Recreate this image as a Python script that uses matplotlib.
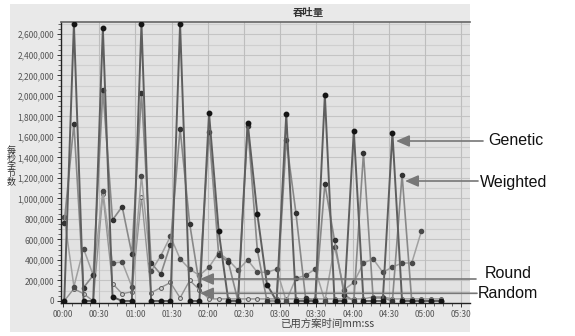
import numpy as np
import matplotlib
matplotlib.use("Agg")
import matplotlib.pyplot as plt
from matplotlib.ticker import FuncFormatter, MultipleLocator
from matplotlib.patches import Rectangle

plt.rcParams['font.family'] = ['Noto Sans CJK SC', 'DejaVu Sans']

# sample times (s) and bytes-per-second, in millions
step = 8
n_pts = 40
times = 1 + step * np.arange(n_pts)

genetic = [0, 2.70, 0, 0, 2.66, 0.04, 0, 0, 2.70, 0,
           0, 0, 2.70, 0, 0, 1.83, 0.68, 0, 0, 1.74,
           0.85, 0.16, 0, 1.82, 0, 0, 0, 2.01, 0, 0,
           1.66, 0, 0, 0, 1.64, 0, 0, 0, 0, 0]
weighted = [0.76, 1.73, 0.13, 0.25, 2.06, 0.79, 0.92, 0.46, 2.03, 0.37,
            0.26, 0.55, 1.68, 0.75, 0.16, 1.65, 0.45, 0.38, 0, 1.71,
            0.50, 0, 0, 1.57, 0.86, 0.03, 0, 1.14, 0.59, 0.06,
            0, 1.44, 0.03, 0.03, 0, 1.23, 0, 0, 0, 0]
round_robin = [0.82, 0.14, 0.51, 0.25, 1.07, 0.37, 0.38, 0.14, 1.22, 0.29,
               0.44, 0.63, 0.41, 0.31, 0.25, 0.33, 0.47, 0.40, 0.30, 0.40,
               0.28, 0.28, 0.31, 0, 0.22, 0.25, 0.31, 0, 0.53, 0.11,
               0.18, 0.37, 0.41, 0.28, 0.33, 0.37, 0.37, 0.68, np.nan, np.nan]
random_ = [0, 0.12, 0.07, 0, 1.04, 0.17, 0.07, 0.09, 1.01, 0.08,
           0.13, 0.18, 0.03, 0.20, 0.11, 0.02, 0.02, 0.02, 0.02, 0.02,
           0.02, 0.02, 0.02, 0.02, 0.02, 0.02, 0.02, 0.02, 0.02, 0.02,
           0.02, 0.02, 0.04, 0.04, 0.02, 0.02, 0.02, 0.02, 0.02, 0.02]

labels = ["Genetic", "Weighted", "Round", "Random"]

fig = plt.figure(figsize=(5.75, 3.36), dpi=100, facecolor="white")

# grey chart panel behind everything
fig.patches.append(Rectangle((10 / 575, 1 - 332 / 336), 460 / 575, 328 / 336,
                             transform=fig.transFigure, facecolor="#e9e9e9",
                             edgecolor="none", zorder=-10))

ax = fig.add_axes([61 / 575, 1 - 302.7 / 336, 409 / 575, 280.7 / 336])
ax.set_facecolor("#e2e2e2")

ax.plot(times, np.array(random_) * 1e6, color="#939393", lw=1.0,
        marker="o", ms=2.8, mfc="#d0d0d0", mec="#5a5a5a", mew=0.7, zorder=3)
ax.plot(times, np.array(round_robin) * 1e6, color="#a0a0a0", lw=1.1,
        marker="o", ms=3, mfc="#4a4a4a", mec="#4a4a4a", zorder=4)
ax.plot(times, np.array(weighted) * 1e6, color="#888888", lw=1.2,
        marker="o", ms=3, mfc="#333333", mec="#333333", zorder=5)
ax.plot(times, np.array(genetic) * 1e6, color="#5e5e5e", lw=1.4,
        marker="o", ms=3.2, mfc="#151515", mec="#151515", zorder=6)

ax.set_xlim(-1.7, 337.3)
ax.set_ylim(-17000, 2720000)

ax.yaxis.set_major_locator(MultipleLocator(200000))
ax.yaxis.set_minor_locator(MultipleLocator(50000))
ax.xaxis.set_major_locator(MultipleLocator(30))
ax.xaxis.set_minor_locator(MultipleLocator(7.5))
ax.yaxis.set_major_formatter(FuncFormatter(lambda v, p: f"{int(round(v)):,}"))
ax.xaxis.set_major_formatter(FuncFormatter(lambda v, p: f"{int(v) // 60:02d}:{int(v) % 60:02d}"))

for y in np.arange(100000, 2700001, 100000):
    ax.axhline(y, color="#cfcfcf" if y % 200000 else "#c4c4c4", lw=0.8, zorder=0)
for x in np.arange(30, 331, 30):
    ax.axvline(x, color="#bdbdbd", lw=0.8, zorder=0)

ax.tick_params(axis="both", which="major", labelsize=6, colors="#333333",
               length=3, width=0.7, pad=2)
ax.tick_params(axis="both", which="minor", length=2, width=0.5, color="#333333")
for lbl in ax.get_xticklabels() + ax.get_yticklabels():
    lbl.set_color("#555555")

for side in ["left", "bottom"]:
    ax.spines[side].set_color("#222222")
    ax.spines[side].set_linewidth(1.0)
ax.spines["top"].set_color("#666666")
ax.spines["top"].set_linewidth(1.2)
ax.spines["right"].set_visible(False)

fig.text(308 / 575, 1 - 13 / 336, "吞吐量", ha="center", va="center",
         fontsize=7.5, fontweight="bold", color="#333333")
fig.text(327 / 575, 1 - 324 / 336, "已用方案时间mm:ss", ha="center", va="center",
         fontsize=7.5, color="#444444")
fig.text(11 / 575, 1 - 166 / 336, "每\n秒\n字\n节\n数", ha="center", va="center",
         fontsize=6.5, color="#333333", linespacing=0.85)

# callouts naming each series
arrow_kw = dict(arrowstyle="-|>,head_length=0.8,head_width=0.35",
                color="#777777", lw=1.2, shrinkA=0, shrinkB=0)
callouts = [
    (labels[0], (396, 141), (483, 141), (488, 140)),
    (labels[1], (405, 181), (478, 181), (480, 182)),
    (labels[2], (200, 279), (476, 279), (485, 273)),
    (labels[3], (200, 293.3), (477, 293.3), (478, 293)),
]
for name, head, tail, txt in callouts:
    ax.annotate("", xy=(head[0] / 575, 1 - head[1] / 336), xycoords="figure fraction",
                xytext=(tail[0] / 575, 1 - tail[1] / 336), textcoords="figure fraction",
                arrowprops=arrow_kw, annotation_clip=False, zorder=8)
    fig.text(txt[0] / 575, 1 - txt[1] / 336, name, ha="left", va="center",
             fontsize=11.5, family="Liberation Sans", color="#111111")

fig.savefig("out.png", dpi=100, facecolor="white")
